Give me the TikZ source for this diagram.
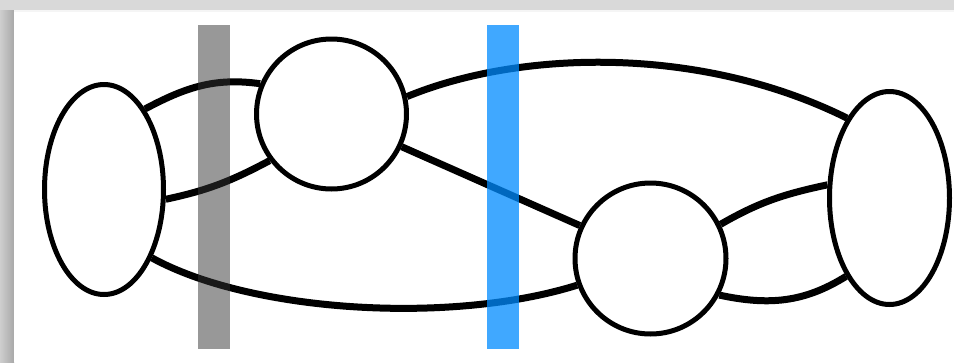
\documentclass[tikz,border=0pt]{standalone}
\usetikzlibrary{shapes.geometric}
\definecolor{shadowtop}{RGB}{217,217,217}
\definecolor{shadowL}{RGB}{206,206,206}
\definecolor{shadowR}{RGB}{168,168,168}
\definecolor{graybar}{RGB}{50,50,50}
\definecolor{bluebar}{RGB}{0,139,255}
\tikzset{
  oval/.style={ellipse, draw=black, fill=white, line width=5pt, inner sep=0pt},
  disc/.style={circle, draw=black, fill=white, line width=5pt, inner sep=0pt, minimum size=150pt},
  link/.style={draw=black, line width=7pt},
  greyband/.style={fill=graybar, fill opacity=0.5},
  blueband/.style={fill=bluebar, fill opacity=0.75},
}
\begin{document}
\begin{tikzpicture}[x=1pt,y=-1pt]
\useasboundingbox (0,0) rectangle (954,362);
% background with shadow
\fill[shadowtop] (0,0) rectangle (954,362);
\shade[left color=shadowL, right color=shadowR] (0,10) rectangle (14,362);
\fill[white!96!black] (14,10) rectangle (954,14);
\fill[white] (14,12) rectangle (954,362);
% nodes
\node[oval, minimum width=119pt, minimum height=210pt] (L) at (104,189.5) {};
\node[disc] (A) at (331.5,114) {};
\node[disc, minimum size=151pt] (B) at (650.5,258.5) {};
\node[oval, minimum width=120pt, minimum height=213pt] (R) at (889.5,198) {};
% connectors
\draw[link] (L.63) to[out=28, in=172] (A.157);
\draw[link] (L.-9) to[out=12, in=208] (A.217);
\draw[link] (L.-55) .. controls (250,312) and (450,325) .. (B.200);
\draw[link] (A.13) .. controls (520,50) and (700,45) .. (R.118);
\draw[link] (A.-25.5) -- (B.155.5);
\draw[link] (B.26) to[out=30, in=192] (R.168);
\draw[link] (B.-28) to[out=-12, in=212] (R.241);
% bands
\fill[greyband] (198,25) rectangle (230,349);
\fill[blueband] (487,25) rectangle (519,349);
\end{tikzpicture}
\end{document}
